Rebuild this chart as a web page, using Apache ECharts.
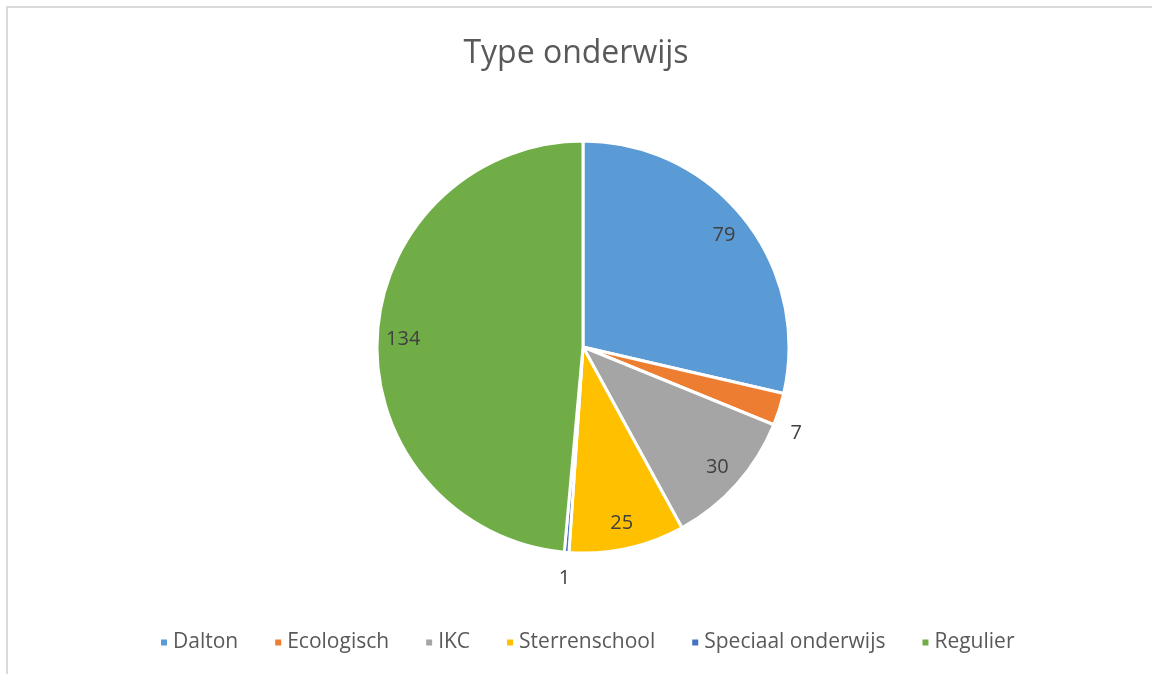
<!DOCTYPE html>
<html>
<head>
<meta charset="utf-8">
<script src="https://cdn.jsdelivr.net/npm/echarts@6/dist/echarts.min.js"></script>
<style>
html,body{margin:0;padding:0;background:#fff;}
#frame{position:absolute;left:6px;top:6px;width:1160px;height:680px;border-left:2px solid #d9d9d9;border-top:2px solid #d9d9d9;}
#chart{position:absolute;left:0;top:0;width:1152px;height:674px;}
</style>
</head>
<body>
<div id="frame"></div>
<div id="chart"></div>
<script>
'use strict';
var categories = ['Dalton', 'Ecologisch', 'IKC', 'Sterrenschool', 'Speciaal onderwijs', 'Regulier'];
var values = [79, 7, 30, 25, 1, 134];
var colors = ['#5b9bd5', '#ed7d31', '#a5a5a5', '#ffc000', '#4472c4', '#70ad47'];
// which slices get their label outside the pie
var outsideLabel = [false, true, false, false, true, false];

var font = 'Open Sans';
var center = [583, 347];

function pieData(mode){
	return categories.map(function(name, i){
		var d = {name:name, value:values[i]};
		if(mode === 'main'){
			d.itemStyle = {color:colors[i]};
		}else{
			var show = mode === 'outer' ? outsideLabel[i] : !outsideLabel[i];
			d.label = {show:show};
			if(mode === 'outer' && name === 'Ecologisch') d.label.offset = [-8, 16];//excel bestfit puts it lower
		}
		return d;
	});
}

var labelStyle = {position:'inside', formatter:'{c}', color:'#404040', fontSize:20, fontFamily:font};

var chart = echarts.init(document.getElementById('chart'));
chart.setOption({
	animation:false,
	title:{
		text:'Type onderwijs', left:'center', top:33,
		textStyle:{fontFamily:font, fontSize:32, fontWeight:'normal', color:'#595959'}
	},
	legend:{
		bottom:16, left:154, icon:'rect', itemWidth:8, itemHeight:8, itemGap:35,
		data:categories,
		textStyle:{fontFamily:font, fontSize:21, color:'#595959'}
	},
	series:[{
		type:'pie', center:center, radius:[0, 206], startAngle:90, clockwise:true,
		itemStyle:{borderColor:'#fff', borderWidth:3},
		label:{show:false}, labelLine:{show:false},
		data:pieData('main')
	},{
		// invisible ring to place the inside labels
		type:'pie', center:center, radius:[144, 210], silent:true, legendHoverLink:false,
		itemStyle:{color:'rgba(0,0,0,0)'}, label:labelStyle, labelLine:{show:false},
		data:pieData('inner')
	},{
		// invisible ring to place the outside labels
		type:'pie', center:center, radius:[206, 252], silent:true, legendHoverLink:false,
		itemStyle:{color:'rgba(0,0,0,0)'}, label:labelStyle, labelLine:{show:false},
		data:pieData('outer')
	}]
});
</script>
</body>
</html>
